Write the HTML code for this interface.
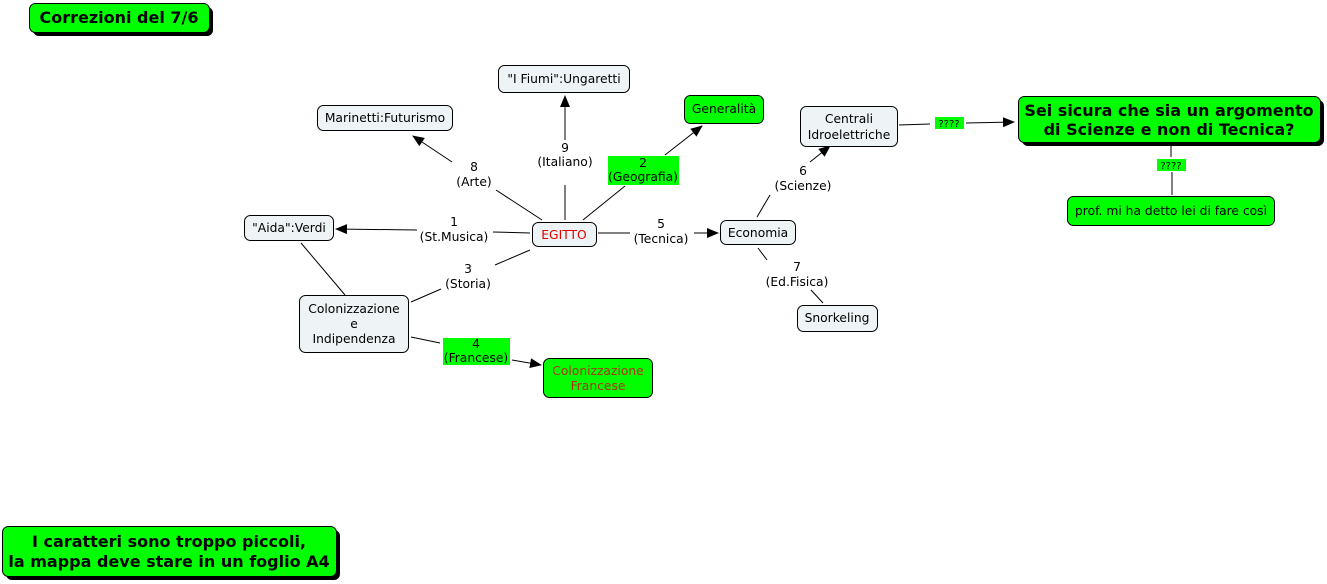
<!DOCTYPE html>
<html><head><meta charset="utf-8"><style>
html,body{margin:0;padding:0;background:#fff;}
svg{display:block;}
text{font-family:"DejaVu Sans","Liberation Sans",sans-serif;font-size:12.3px;fill:#000;}
.b{font-weight:bold;font-size:16px;}
.n{fill:#eef3f5;stroke:#000;stroke-width:1;}
.g{fill:#00ff00;stroke:#000;stroke-width:1;}
.l{stroke:#000;stroke-width:1;fill:none;}
</style></head><body>
<svg width="1327" height="584" viewBox="0 0 1327 584" xmlns="http://www.w3.org/2000/svg">
<defs><marker id="a" markerWidth="12" markerHeight="10" refX="11" refY="5" orient="auto" markerUnits="userSpaceOnUse"><path d="M0,0 L12,5 L0,10 z" fill="#000"/></marker></defs>

<line class="l" x1="565" y1="220" x2="565" y2="185"/>
<line class="l" x1="565" y1="140" x2="565" y2="96" marker-end="url(#a)"/>
<line class="l" x1="542" y1="220" x2="496" y2="190"/>
<line class="l" x1="452" y1="162" x2="413" y2="136" marker-end="url(#a)"/>
<line class="l" x1="583" y1="220" x2="625" y2="186"/>
<line class="l" x1="665" y1="155" x2="702" y2="126" marker-end="url(#a)"/>
<line class="l" x1="530" y1="233" x2="493" y2="232"/>
<line class="l" x1="417" y1="230" x2="336" y2="229" marker-end="url(#a)"/>
<line class="l" x1="530" y1="250" x2="495" y2="265"/>
<line class="l" x1="441" y1="289" x2="411" y2="302"/>
<line class="l" x1="301" y1="243" x2="345" y2="295"/>
<line class="l" x1="411" y1="337" x2="440" y2="343"/>
<line class="l" x1="512" y1="360" x2="541" y2="365" marker-end="url(#a)"/>
<line class="l" x1="598" y1="233" x2="630" y2="233"/>
<line class="l" x1="694" y1="233" x2="718" y2="233" marker-end="url(#a)"/>
<line class="l" x1="757" y1="217" x2="770" y2="195"/>
<line class="l" x1="810" y1="162" x2="830" y2="146" marker-end="url(#a)"/>
<line class="l" x1="758" y1="248" x2="767" y2="260"/>
<line class="l" x1="811" y1="290" x2="823" y2="303"/>
<line class="l" x1="899" y1="125" x2="930" y2="124"/>
<line class="l" x1="966" y1="123" x2="1014" y2="122" marker-end="url(#a)"/>
<line class="l" x1="1171" y1="145" x2="1171" y2="157"/>
<line class="l" x1="1172" y1="172" x2="1172" y2="195"/>

<text x="565" y="152" text-anchor="middle">9</text><text x="565" y="166" text-anchor="middle">(Italiano)</text>
<text x="474" y="171" text-anchor="middle">8</text><text x="474" y="186" text-anchor="middle">(Arte)</text>
<rect x="608" y="156" width="71" height="29" fill="#00ff00"/>
<text x="643" y="167" text-anchor="middle">2</text><text x="643" y="181" text-anchor="middle">(Geografia)</text>
<text x="454" y="226" text-anchor="middle">1</text><text x="454" y="241" text-anchor="middle">(St.Musica)</text>
<text x="468" y="273" text-anchor="middle">3</text><text x="468" y="288" text-anchor="middle">(Storia)</text>
<rect x="443" y="338" width="67" height="27" fill="#00ff00"/>
<text x="476" y="348" text-anchor="middle">4</text><text x="476" y="362" text-anchor="middle">(Francese)</text>
<text x="661" y="228" text-anchor="middle">5</text><text x="661" y="243" text-anchor="middle">(Tecnica)</text>
<text x="803" y="175" text-anchor="middle">6</text><text x="803" y="190" text-anchor="middle">(Scienze)</text>
<text x="797" y="271" text-anchor="middle">7</text><text x="797" y="286" text-anchor="middle">(Ed.Fisica)</text>
<rect x="935" y="117" width="29" height="12" fill="#00ff00"/>
<text x="949" y="127" text-anchor="middle" style="font-size:10px">????</text>
<rect x="1157" y="159" width="29" height="12" fill="#00ff00"/>
<text x="1171" y="169" text-anchor="middle" style="font-size:10px">????</text>

<rect class="n" x="498.5" y="65.5" width="131" height="27" rx="6"/>
<text x="564" y="83" text-anchor="middle">"I Fiumi":Ungaretti</text>
<rect class="n" x="317.5" y="105.5" width="135" height="25" rx="6"/>
<text x="385" y="122" text-anchor="middle">Marinetti:Futurismo</text>
<rect class="g" x="684.5" y="95.5" width="79" height="28" rx="6"/>
<text x="724" y="113" text-anchor="middle">Generalità</text>
<rect class="n" x="800.5" y="106.5" width="97" height="40" rx="6"/>
<text x="849" y="123" text-anchor="middle">Centrali</text><text x="849" y="139" text-anchor="middle">Idroelettriche</text>
<rect class="n" x="244.5" y="215.5" width="89" height="25" rx="6"/>
<text x="289" y="232" text-anchor="middle">"Aida":Verdi</text>
<rect class="n" x="532.5" y="222.5" width="64" height="24" rx="6"/>
<text x="564" y="239" text-anchor="middle" style="fill:#e00000">EGITTO</text>
<rect class="n" x="299.5" y="295.5" width="109" height="57" rx="6"/>
<text x="354" y="313" text-anchor="middle">Colonizzazione</text><text x="354" y="328" text-anchor="middle">e</text><text x="354" y="343" text-anchor="middle">Indipendenza</text>
<rect class="g" x="543.5" y="358.5" width="109" height="39" rx="6"/>
<text x="598" y="375" text-anchor="middle" style="fill:#b03010">Colonizzazione</text><text x="598" y="390" text-anchor="middle" style="fill:#b03010">Francese</text>
<rect class="n" x="720.5" y="220.5" width="75" height="24" rx="6"/>
<text x="758" y="237" text-anchor="middle">Economia</text>
<rect class="n" x="797.5" y="305.5" width="80" height="26" rx="6"/>
<text x="837" y="322" text-anchor="middle">Snorkeling</text>
<rect class="g" x="1067.5" y="196.5" width="207" height="29" rx="6"/>
<text x="1171" y="215" text-anchor="middle">prof. mi ha detto lei di fare così</text>

<rect x="33" y="7" width="180" height="29" rx="6" fill="#000"/>
<rect class="g" x="29.5" y="3.5" width="180" height="29" rx="6"/>
<text class="b" x="119" y="23" text-anchor="middle">Correzioni del 7/6</text>

<rect x="1022" y="100" width="302" height="46" rx="6" fill="#000"/>
<rect class="g" x="1018.5" y="96.5" width="302" height="46" rx="6"/>
<text class="b" x="1169" y="116" text-anchor="middle">Sei sicura che sia un argomento</text>
<text class="b" x="1169" y="135" text-anchor="middle">di Scienze e non di Tecnica?</text>

<rect x="6" y="530" width="334" height="50" rx="6" fill="#000"/>
<rect class="g" x="2.5" y="526.5" width="334" height="50" rx="6"/>
<text class="b" x="169" y="547" text-anchor="middle">I caratteri sono troppo piccoli,</text>
<text class="b" x="169" y="567" text-anchor="middle">la mappa deve stare in un foglio A4</text>
</svg>
</body></html>
